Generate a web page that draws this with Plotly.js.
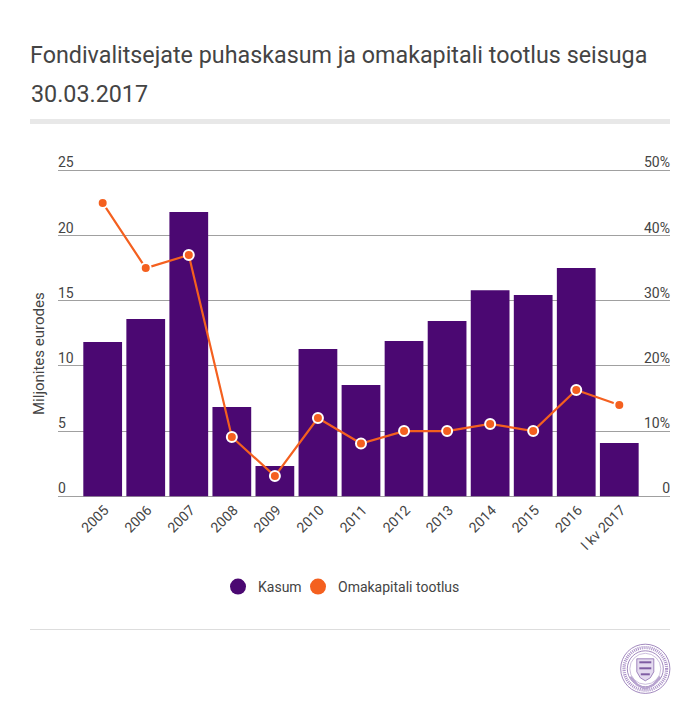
<!DOCTYPE html>
<html><head><meta charset="utf-8">
<script src="https://cdn.plot.ly/plotly-3.0.1.min.js"></script>
<style>html,body{margin:0;padding:0;background:#fff}#c{width:700px;height:711px}</style>
</head><body><div id="c"></div>
<script>
const categories = ["2005","2006","2007","2008","2009","2010","2011","2012","2013","2014","2015","2016","I kv 2017"];
const kasum = [11.84,13.6,21.8,6.85,2.33,11.3,8.54,11.9,13.45,15.8,15.44,17.5,4.09];
const tootlus = [45,35,37,9.1,3.1,12,8.1,10,10,11.1,10,16.3,14];
const leftTicks = [0,5,10,15,20,25];
const rightTicks = [0,10,20,30,40,50];
const rightLabels = ["0","10%","20%","30%","40%","50%"];
const W=700,H=711;
const FONT="Roboto, sans-serif", TXT="#444444", PURPLE="#4b0872", ORANGE="#f4601f";
const px=x=>x/W, py=y=>1-y/H;
const rect=(x0,y0,x1,y1,fill)=>({type:"rect",xref:"paper",yref:"paper",x0:px(x0),x1:px(x1),y0:py(y0),y1:py(y1),fillcolor:fill,line:{width:0},layer:"below"});
const circ=(cx,cy,r,lw,col,dash)=>({type:"circle",xref:"paper",yref:"paper",x0:px(cx-r),x1:px(cx+r),y0:py(cy-r),y1:py(cy+r),line:{width:lw,color:col,dash:dash||"solid"},fillcolor:"rgba(0,0,0,0)"});
const poly=(pts,lw,col,fill)=>({type:"path",xref:"paper",yref:"paper",path:pts.map((p,i)=>(i?"L":"M")+px(p[0])+","+py(p[1])).join(" ")+(fill?" Z":""),line:{width:lw,color:col},fillcolor:fill||"rgba(0,0,0,0)"});
const LC="#8a6bad", LX=645.3, LY=668.8;
const logo=[
 circ(LX,LY,24.6,.8,LC),
 circ(LX,LY,21.3,3.2,"#a98fc6","1px,1px"),
 circ(LX,LY,18,.8,LC),
 circ(LX,LY,15.5,.7,"#b7a3cf"),
 poly([[LX-8.5,LY-10],[LX+8.5,LY-10],[LX+8.5,LY+3],[LX+5,LY+9],[LX,LY+12],[LX-5,LY+9],[LX-8.5,LY+3]],.8,LC,"#e4daef"),
 poly([[LX-6,LY-6.5],[LX+6,LY-6.5]],2,"#7f5da3"),
 poly([[LX-6,LY-.5],[LX+6,LY-.5]],2,"#7f5da3"),
 poly([[LX-4.5,LY+5.5],[LX+4.5,LY+5.5]],2,"#7f5da3"),
 poly([[LX-15,LY+8],[LX-8,LY+16],[LX,LY+20]],2.4,"#b7a3cf"),
 poly([[LX+15,LY+8],[LX+8,LY+16],[LX,LY+20]],2.4,"#b7a3cf")
];
const data=[
 {type:"bar",x:categories,y:kasum,name:"Kasum",marker:{color:PURPLE},showlegend:false,hoverinfo:"x+y"},
 {type:"scatter",mode:"lines+markers",x:categories,y:tootlus,yaxis:"y2",name:"Omakapitali tootlus",showlegend:false,
  line:{color:ORANGE,width:2.2},marker:{color:ORANGE,size:10,line:{color:"#ffffff",width:2}},hoverinfo:"x+y"},
 {type:"scatter",mode:"markers",x:[null],y:[null],name:"Kasum",marker:{color:PURPLE,size:16}},
 {type:"scatter",mode:"markers",x:[null],y:[null],name:"Omakapitali tootlus",yaxis:"y2",legend:"legend2",marker:{color:ORANGE,size:16}}
];
const legendBase={orientation:"h",xanchor:"left",y:py(587),yanchor:"middle",font:{size:14,color:TXT},bgcolor:"rgba(0,0,0,0)"};
const topY=150, botY=510, zeroY=496.3, unit=326/25;
const leftRange=[-(botY-zeroY)/unit,(zeroY-topY)/unit], rightRange=leftRange.map(v=>2*v);
const layout={
 width:W,height:H,margin:{l:0,r:0,t:0,b:0},paper_bgcolor:"#fff",plot_bgcolor:"rgba(0,0,0,0)",
 font:{family:FONT,color:TXT,size:14},bargap:0.1,
 title:{text:"Fondivalitsejate puhaskasum ja omakapitali tootlus seisuga",font:{family:FONT,size:23.3,color:TXT},
   x:px(30),xref:"paper",xanchor:"left",y:py(55),yref:"container",yanchor:"middle"},
 xaxis:{domain:[px(58),px(670)],type:"category",categoryorder:"array",categoryarray:categories,range:[-1.038,13.178],
   anchor:"free",position:py(zeroY),
   tickangle:-45,ticks:"",showgrid:false,zeroline:false,showline:false,tickfont:{size:14,color:TXT},automargin:false,ticklabelstandoff:2,ticklabelshift:2},
 yaxis:{domain:[py(botY),py(topY)],range:leftRange,tickvals:leftTicks,ticktext:leftTicks.map(String),ticklabelposition:"inside top",
   ticklabelstandoff:-3,ticklabelshift:2,
   showgrid:true,gridcolor:"#a0a0a0",gridwidth:1,zeroline:false,showline:false,tickfont:{size:14,color:TXT},automargin:false},
 yaxis2:{overlaying:"y",side:"right",range:rightRange,tickvals:rightTicks,ticktext:rightLabels,ticklabelposition:"inside top",
   ticklabelstandoff:-3,ticklabelshift:2,
   showgrid:false,zeroline:false,showline:false,tickfont:{size:14,color:TXT},automargin:false},
 legend:Object.assign({x:px(218)},legendBase),
 legend2:Object.assign({x:px(298)},legendBase),
 annotations:[
  {xref:"paper",yref:"paper",x:px(28.5),y:py(94),xanchor:"left",yanchor:"middle",text:"30.03.2017",showarrow:false,font:{family:FONT,size:23.3,color:TXT}},
  {xref:"paper",yref:"paper",x:px(39),y:py(354),xanchor:"center",yanchor:"middle",text:"Miljonites eurodes",textangle:-90,showarrow:false,font:{family:FONT,size:15,color:TXT}}
 ],
 shapes:[rect(30,119,670,124,"#e8e8e8"),rect(30,629,670,630,"#dddddd")].concat(logo)
};
Plotly.newPlot("c",data,layout,{displayModeBar:false,responsive:false});
</script></body></html>
